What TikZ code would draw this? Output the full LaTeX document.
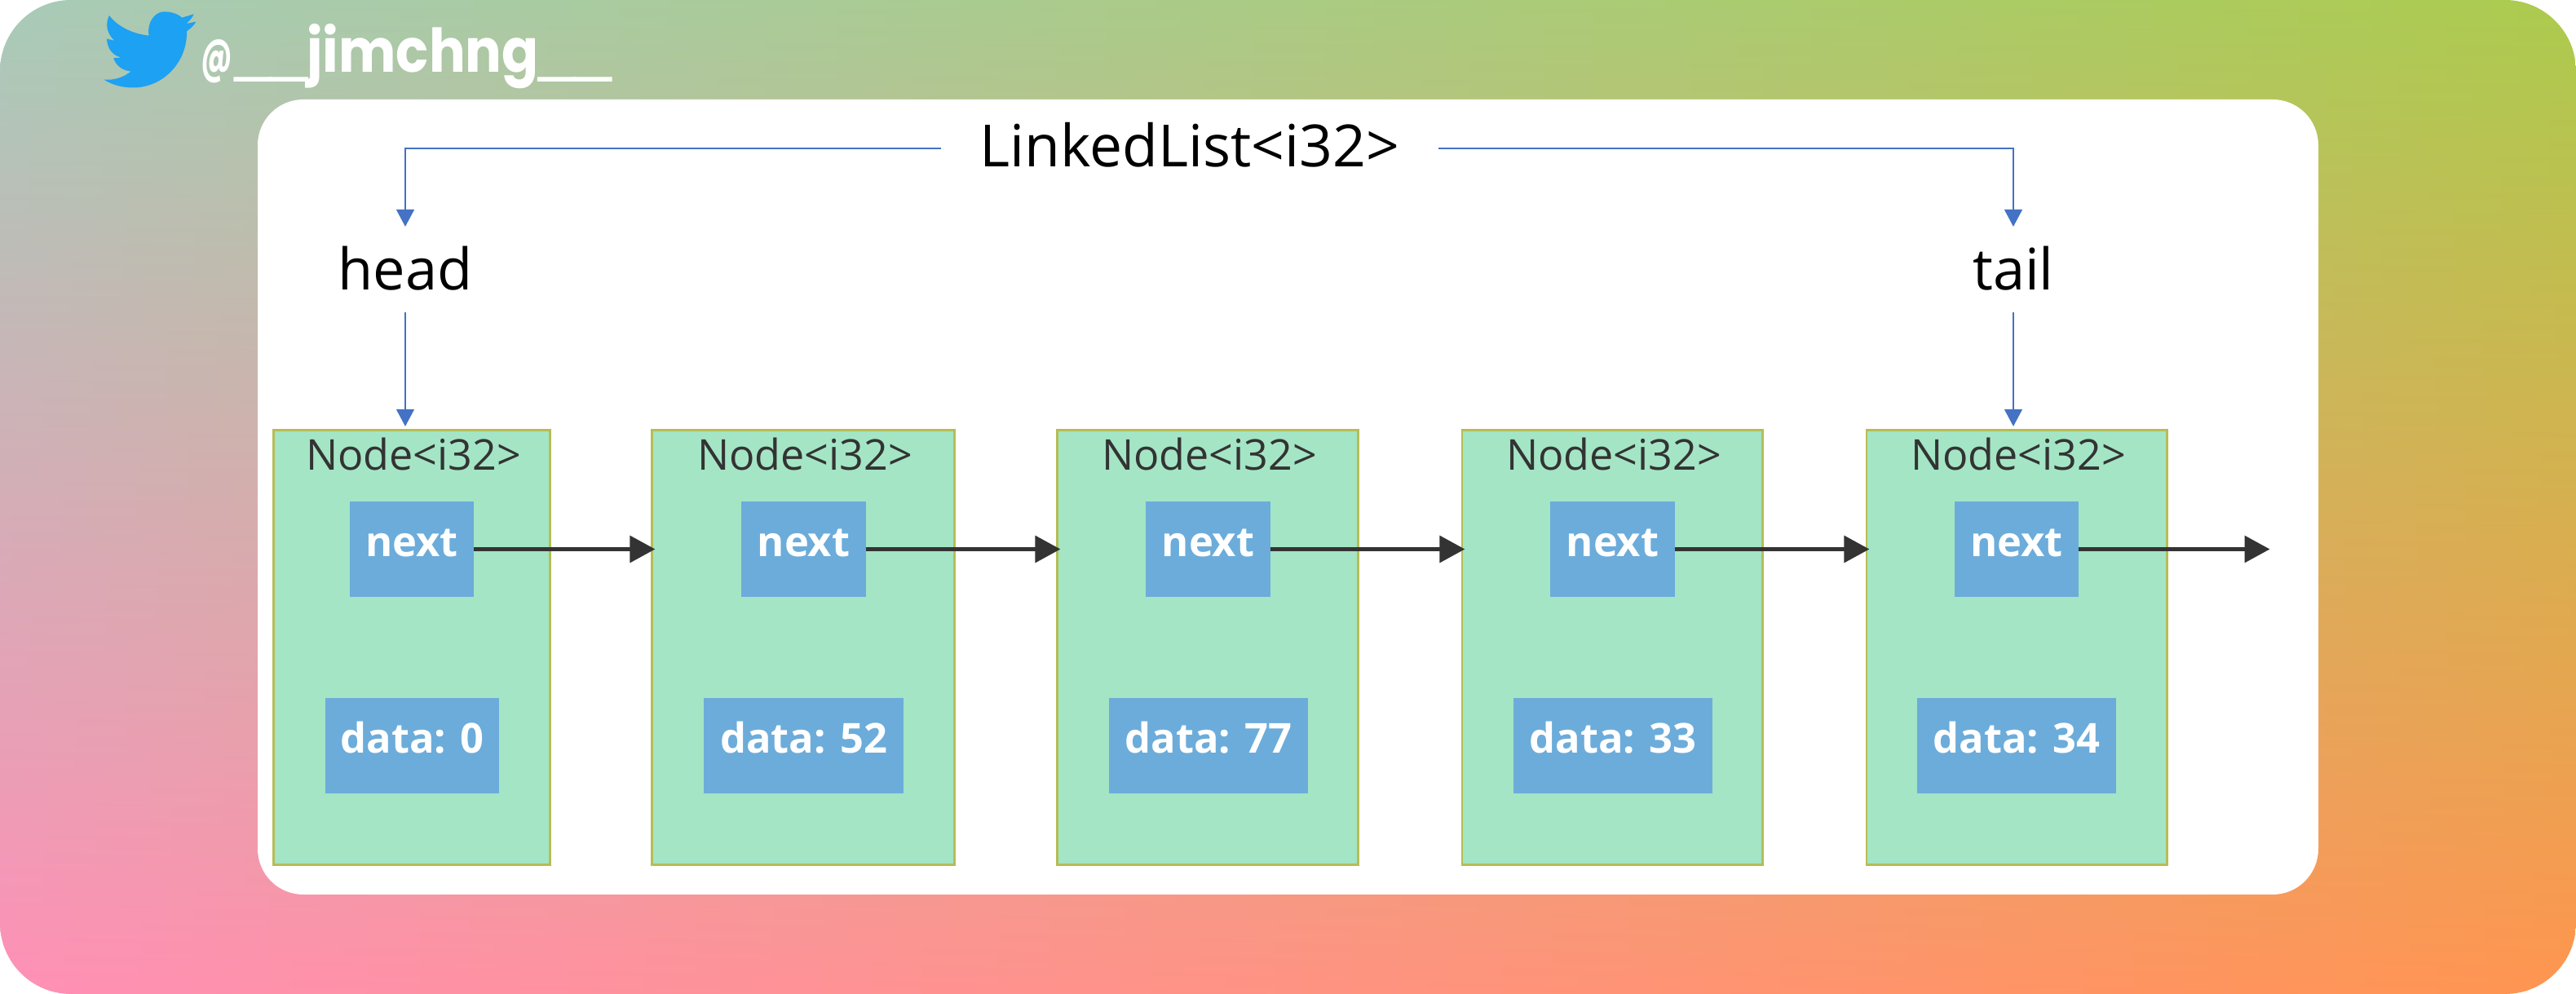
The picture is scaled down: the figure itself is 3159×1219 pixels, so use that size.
\documentclass[tikz,border=0pt]{standalone}
\usepackage{fontspec}
\setmainfont{Open Sans}
\newfontfamily\handlefont{Poppins}[FakeStretch=0.9]
\newfontfamily\atfont{Poppins}[FakeStretch=0.6]
\newfontfamily\barfont{Liberation Sans}[FakeBold=3]
\usetikzlibrary{arrows.meta, shadings}
\definecolor{boxgreen}{HTML}{A4E5C5}
\definecolor{boxedge}{HTML}{B5BD55}
\definecolor{fieldblue}{HTML}{6CACDA}
\definecolor{linkblue}{HTML}{4472C4}
\definecolor{linkdark}{HTML}{333333}
\definecolor{birdblue}{HTML}{1DA1F2}
\newcommand{\handlebars}{{\barfont\fontsize{22.5}{24}\selectfont\symbol{95}\symbol{95}}}
\tikzset{
  nodebox/.style={draw=boxedge, fill=boxgreen, line width=0.8pt, inner sep=0pt, outer sep=0pt, minimum height=5.32cm, minimum width=3.68cm},
  nodetitle/.style={anchor=base, text=linkdark, font=\fontsize{14.8}{16}\selectfont, inner sep=0pt},
  field/.style={fill=fieldblue, text=white, inner sep=0pt, outer sep=0pt, minimum height=1.17cm, text height=10.4pt, text depth=5pt, font=\fontsize{14.4}{16}\selectfont\bfseries},
  nextfield/.style={field, minimum width=1.52cm},
  datafield/.style={field, minimum width=2.44cm},
  listlabel/.style={inner sep=0pt, outer sep=0pt, minimum height=1.05cm, text height=17pt, text depth=3pt, font=\fontsize{20}{22}\selectfont},
  bluelink/.style={draw=linkblue, line width=0.7pt, -{Triangle[length=6pt, width=6.2pt]}},
  darklink/.style={draw=linkdark, line width=1.4pt, shorten >=-1pt, -{Triangle[length=8.8pt, width=9.2pt]}}
}

\begin{document}
\begin{tikzpicture}[x=0.01cm, y=-0.01cm]
      \shade[rounded corners=.87cm, upper left={rgb,255:red,168;green,203;blue,184}, upper right={rgb,255:red,172;green,203;blue,78}, lower left={rgb,255:red,255;green,144;blue,182}, lower right={rgb,255:red,255;green,149;blue,80}]
        (0,0) rectangle (3159,1219);
      \fill[white, rounded corners=.56cm]
        (316,122) rectangle (2843,1097);
      \begin{scope}[shift={(110,5)}, x=0.003333cm, y=-0.003333cm]
        \fill[birdblue]
          (384,37) -- (340,50) .. controls (322,34) and (298,28) .. (272,28)
          .. controls (238,30) and (210,70) .. (218,116)
          .. controls (160,110) and (105,85) .. (72,42)
          .. controls (55,75) and (65,112) .. (92,135) -- (63,128)
          .. controls (65,165) and (85,190) .. (117,197) -- (88,199)
          .. controls (95,225) and (120,245) .. (152,248)
          .. controls (125,270) and (90,282) .. (52,278)
          .. controls (85,300) and (125,308) .. (160,308)
          .. controls (270,308) and (360,215) .. (358,100)
          .. controls (372,90) and (385,78) .. (392,65) -- (356,72)
          .. controls (368,62) and (378,50) .. (384,37) -- cycle;
      \end{scope}
      \node[anchor=base west, inner sep=0pt, text=white, font=\handlefont\bfseries\fontsize{21}{24}\selectfont] (handle) at (246,89)
        {{\atfont\bfseries\fontsize{17}{18}\selectfont @}\kern0.8pt\handlebars jimchng\handlebars};

      \node[inner sep=0pt, outer sep=0pt, minimum width=6.1cm, minimum height=0.6cm, text height=16pt, text depth=3pt, font=\fontsize{20.3}{22}\selectfont] (list) at (1459,182)
        {LinkedList<i32>};
      \node[listlabel] (head) at (497,330.5) {head};
      \node[listlabel] (tail) at (2469,330.5) {tail};

      \node[nodebox, minimum width=3.39cm] (box1) at (505,794) {};
      \node[nodebox, minimum width=3.70cm] (box2) at (985,794) {};
      \node[nodebox] (box3) at (1481,794) {};
      \node[nodebox] (box4) at (1977,794) {};
      \node[nodebox] (box5) at (2473,794) {};

      \node[nodetitle] (title1) at (507,577) {Node<i32>};
      \node[nodetitle] (title2) at (987,577) {Node<i32>};
      \node[nodetitle] (title3) at (1483,577) {Node<i32>};
      \node[nodetitle] (title4) at (1979,577) {Node<i32>};
      \node[nodetitle] (title5) at (2475,577) {Node<i32>};

      \node[nextfield] (next1) at (505,673.5) {next};
      \node[nextfield] (next2) at (985.5,673.5) {next};
      \node[nextfield] (next3) at (1481.5,673.5) {next};
      \node[nextfield] (next4) at (1977.5,673.5) {next};
      \node[nextfield] (next5) at (2473,673.5) {next};

      \node[datafield, minimum width=2.13cm] (data1) at (505.5,914.5) {data: 0};
      \node[datafield] (data2) at (985.5,914.5) {data: 52};
      \node[datafield] (data3) at (1482,914.5) {data: 77};
      \node[datafield] (data4) at (1978,914.5) {data: 33};
      \node[datafield] (data5) at (2473,914.5) {data: 34};

      \coordinate (listend) at (2780,673.5);

      \draw[bluelink] (list.west) -| (head.north);
      \draw[bluelink] (list.east) -| (tail.north);
      \draw[bluelink, shorten >=1.4pt] (head.south) -- (head.south |- box1.north);
      \draw[bluelink, shorten >=1.4pt] (tail.south) -- (tail.south |- box5.north);

      \draw[darklink] (next1.east) -- (next1.east -| box2.west);
      \draw[darklink] (next2.east) -- (next2.east -| box3.west);
      \draw[darklink] (next3.east) -- (next3.east -| box4.west);
      \draw[darklink] (next4.east) -- (next4.east -| box5.west);
      \draw[darklink] (next5.east) -- (listend);
    \end{tikzpicture}
\end{document}
